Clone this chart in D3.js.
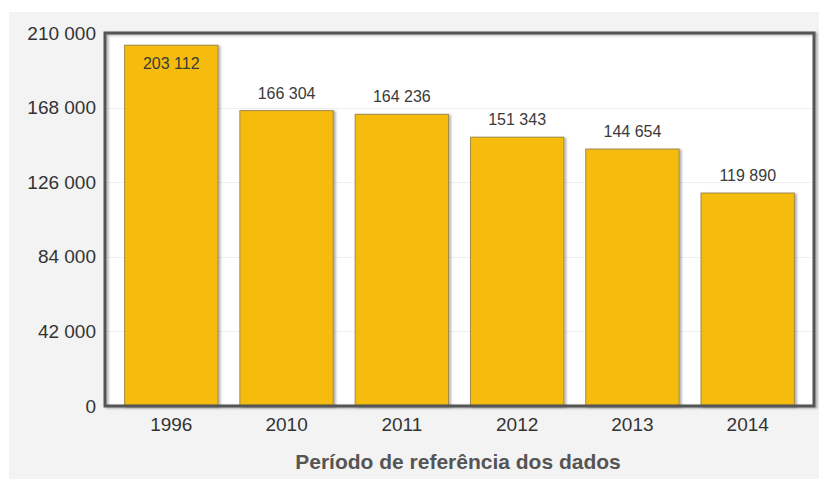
<!DOCTYPE html>
<html>
<head>
<meta charset="utf-8">
<script src="https://cdn.jsdelivr.net/npm/d3@7"></script>
<style>
  body { margin: 0; background: #fff; }
  svg { display: block; font-family: "Liberation Sans", Arial, sans-serif; }
</style>
</head>
<body>
<svg id="chart"></svg>
<script>
var years = ["1996", "2010", "2011", "2012", "2013", "2014"];
var values = [203112, 166304, 164236, 151343, 144654, 119890];
var yTicks = [0, 42000, 84000, 126000, 168000, 210000];
var xTitle = "Período de referência dos dados";

var width = 819, height = 479;
var svg = d3.select("#chart").attr("width", width).attr("height", height);

// plot box (note: "top" is taken by window.top)
var plotL = 105, plotR = 814, plotT = 33, plotB = 406;

// fmt with space as thousands separator
var fmt = function(v) { return d3.format(",")(v).replace(/,/g, " "); };

var defs = svg.append("defs");
var sh = defs.append("filter").attr("id", "shadow")
    .attr("x", "-10%").attr("y", "-10%").attr("width", "130%").attr("height", "130%");
sh.append("feDropShadow").attr("dx", 2).attr("dy", 1).attr("stdDeviation", 1.2)
    .attr("flood-color", "#000").attr("flood-opacity", 0.3);

// grey panel
svg.append("rect")
    .attr("x", 9).attr("y", 12)
    .attr("width", width - 9).attr("height", height - 12)
    .style("fill", "#f3f3f3");

var x = d3.scaleBand()
    .domain(years)
    .range([plotL, plotR])
    .paddingInner(0.19)
    .paddingOuter(0.17);

var y = d3.scaleLinear()
    .domain([0, 210000])
    .range([plotB, plotT]);

// plot area
svg.append("rect")
    .attr("x", plotL).attr("y", plotT)
    .attr("width", plotR - plotL).attr("height", plotB - plotT)
    .style("fill", "#fff");

// grid
svg.append("g").selectAll("line")
    .data(yTicks.filter(function(d){ return d > 0 && d < 210000; }))
    .enter().append("line")
    .attr("x1", plotL).attr("x2", plotR)
    .attr("y1", function(d){ return Math.round(y(d)) + 0.5; })
    .attr("y2", function(d){ return Math.round(y(d)) + 0.5; })
    .style("stroke", "#efefef")
    .style("stroke-width", 1);

// bars
svg.append("g").selectAll("rect")
    .data(values)
    .enter().append("rect")
    .attr("x", function(d, i){ return x(years[i]); })
    .attr("y", function(d){ return y(d); })
    .attr("width", x.bandwidth())
    .attr("height", function(d){ return plotB - y(d); })
    .style("fill", "#f5bc10")
    .style("stroke", "#a08a4a")
    .style("stroke-width", 1)
    .attr("filter", "url(#shadow)");

// value labels
svg.append("g").selectAll("text")
    .data(values)
    .enter().append("text")
    .attr("x", function(d, i){ return x(years[i]) + x.bandwidth() / 2; })
    .attr("y", function(d){
        var t = y(d);
        return (t - 28 < plotT) ? t + 24 : t - 12;
    })
    .attr("text-anchor", "middle")
    .style("font-size", "16px")
    .style("fill", "#3a3a3a")
    .text(fmt);

// frame
svg.append("rect")
    .attr("x", plotL).attr("y", plotT)
    .attr("width", plotR - plotL).attr("height", plotB - plotT)
    .style("fill", "none")
    .style("stroke", "#555")
    .style("stroke-width", 3)
    .attr("filter", "url(#shadow)");

// y axis labels
var yAxis = d3.axisLeft(y).tickValues(yTicks).tickSize(0).tickPadding(8).tickFormat(fmt);
var gy = svg.append("g").attr("transform", "translate(" + (plotL - 1) + ",0)").call(yAxis);
gy.select(".domain").remove();
gy.selectAll("text").style("font-size", "19px").style("fill", "#333")
    .style("font-family", "'Liberation Sans', Arial, sans-serif");

// x axis labels
var xAxis = d3.axisBottom(x).tickSize(0).tickPadding(12);
var gx = svg.append("g").attr("transform", "translate(0," + plotB + ")").call(xAxis);
gx.select(".domain").remove();
gx.selectAll("text").style("font-size", "19px").style("fill", "#333")
    .style("font-family", "'Liberation Sans', Arial, sans-serif");

// axis title
svg.append("text")
    .attr("x", 458)
    .attr("y", 469)
    .attr("text-anchor", "middle")
    .style("font-size", "21px")
    .style("font-weight", "bold")
    .style("fill", "#555")
    .text(xTitle);
</script>
</body>
</html>
